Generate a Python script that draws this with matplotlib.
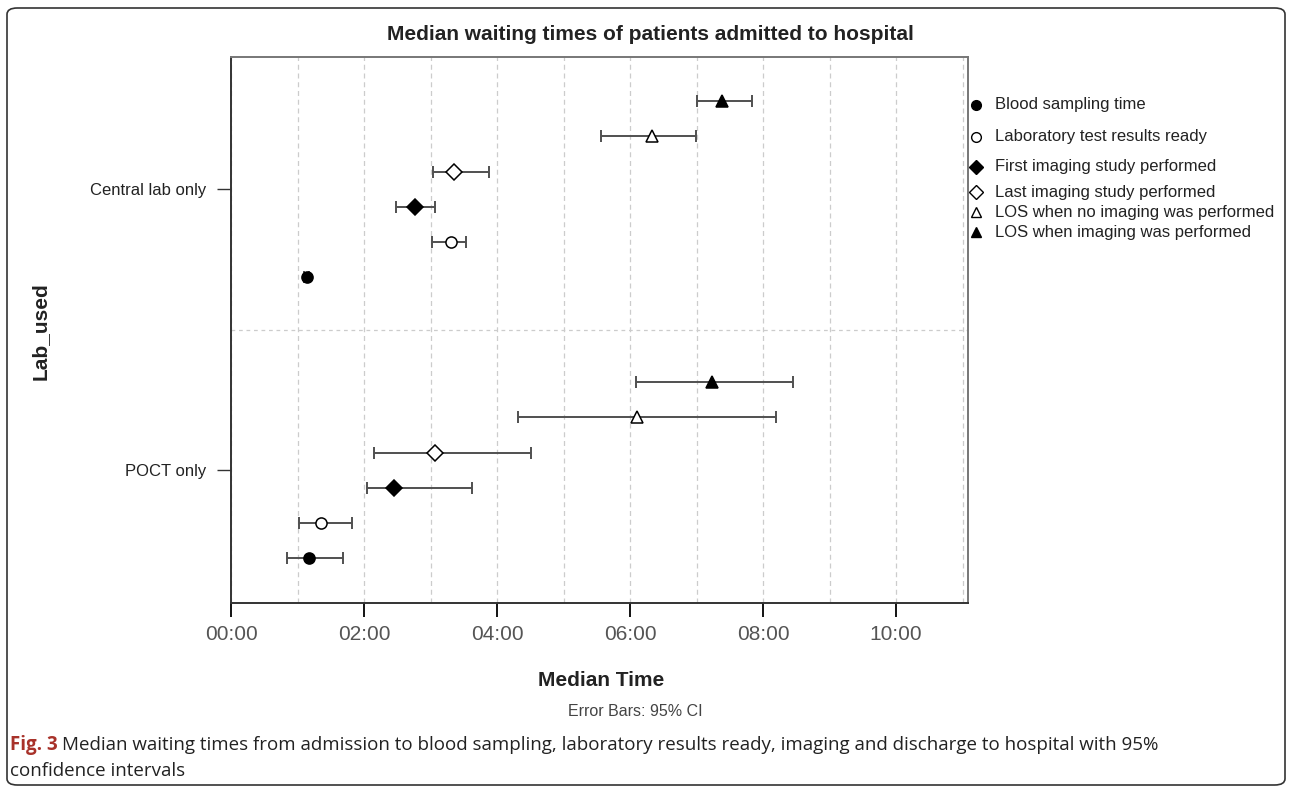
import matplotlib.pyplot as plt
import numpy as np
from matplotlib.lines import Line2D
from matplotlib.patches import FancyBboxPatch
from matplotlib.ticker import FuncFormatter, MultipleLocator

plt.rcParams['font.family'] = ['Liberation Sans', 'DejaVu Sans']

# groups (y axis) and series (bottom to top inside each group)
groups = ["POCT only", "Central lab only"]
series = [
    "Blood sampling time",
    "Laboratory test results ready",
    "First imaging study performed",
    "Last imaging study performed",
    "LOS when no imaging was performed",
    "LOS when imaging was performed",
]

# median times in hours, order: [POCT only, Central lab only]
median = {
    "Blood sampling time": [1.17, 1.14],
    "Laboratory test results ready": [1.35, 3.31],
    "First imaging study performed": [2.45, 2.77],
    "Last imaging study performed": [3.07, 3.35],
    "LOS when no imaging was performed": [6.11, 6.33],
    "LOS when imaging was performed": [7.23, 7.38],
}
ci_low = {
    "Blood sampling time": [0.84, 1.10],
    "Laboratory test results ready": [1.02, 3.02],
    "First imaging study performed": [2.04, 2.48],
    "Last imaging study performed": [2.15, 3.04],
    "LOS when no imaging was performed": [4.32, 5.56],
    "LOS when imaging was performed": [6.09, 7.01],
}
ci_high = {
    "Blood sampling time": [1.68, 1.18],
    "Laboratory test results ready": [1.82, 3.53],
    "First imaging study performed": [3.62, 3.07],
    "Last imaging study performed": [4.51, 3.88],
    "LOS when no imaging was performed": [8.20, 6.99],
    "LOS when imaging was performed": [8.45, 7.83],
}

styles = {
    "Blood sampling time": dict(marker="o", mfc="black", ms=8),
    "Laboratory test results ready": dict(marker="o", mfc="white", ms=8),
    "First imaging study performed": dict(marker="D", mfc="black", ms=8),
    "Last imaging study performed": dict(marker="D", mfc="white", ms=8),
    "LOS when no imaging was performed": dict(marker="^", mfc="white", ms=8),
    "LOS when imaging was performed": dict(marker="^", mfc="black", ms=8),
}

fig = plt.figure(figsize=(12.92, 7.87), dpi=100)
ax = fig.add_axes([231 / 1292, 1 - 603 / 787, 737 / 1292, 546 / 787])

step = 0.125
ypos = np.arange(len(groups))
for i, name in enumerate(series):
    off = (i - 2.5) * step
    m = np.array(median[name])
    lo = m - np.array(ci_low[name])
    hi = np.array(ci_high[name]) - m
    st = styles[name]
    ax.errorbar(m, ypos + off, xerr=[lo, hi], fmt="none", ecolor="#505050",
                elinewidth=1.4, capsize=4, capthick=1.4, zorder=2)
    ax.plot(m, ypos + off, linestyle="none", marker=st["marker"], ms=st["ms"],
            mfc=st["mfc"], mec="black", mew=1.1, zorder=3)

ax.set_xlim(0, 11.08)
ax.set_ylim(-0.473, 1.47)
ax.xaxis.set_major_locator(MultipleLocator(2))
ax.xaxis.set_minor_locator(MultipleLocator(1))
ax.xaxis.set_major_formatter(FuncFormatter(lambda v, p: f"{int(v):02d}:{int(round((v % 1) * 60)):02d}"))
ax.grid(axis="x", which="both", linestyle=(0, (4, 3)), color="#cccccc", linewidth=0.9)
ax.axhline(0.5, linestyle=(0, (3, 3)), color="#cccccc", linewidth=0.9)
ax.set_axisbelow(True)

ax.set_yticks(ypos)
ax.set_yticklabels(groups, fontsize=12, color="#222222")
ax.tick_params(axis="y", length=10, width=1.0, pad=8, color="#333333")
ax.tick_params(axis="x", which="major", length=10, width=1.3, labelsize=15,
               labelcolor="#555555", pad=6)
ax.tick_params(axis="x", which="minor", length=0)

for s in ["left", "bottom"]:
    ax.spines[s].set_color("#333333")
    ax.spines[s].set_linewidth(1.4)
for s in ["top", "right"]:
    ax.spines[s].set_color("#777777")
    ax.spines[s].set_linewidth(1.4)

fig.text(650 / 1292, 1 - 35 / 787, "Median waiting times of patients admitted to hospital",
         ha="center", va="center", fontsize=15, fontweight="bold", color="#222222")
fig.text(601 / 1292, 1 - 681 / 787, "Median Time", ha="center", va="center",
         fontsize=15, fontweight="bold", color="#222222")
fig.text(40 / 1292, 1 - 331 / 787, "Lab_used", ha="center", va="center", rotation=90,
         fontsize=15, fontweight="bold", color="#222222")
fig.text(635 / 1292, 1 - 712 / 787, "Error Bars: 95% CI", ha="center", va="center",
         fontsize=11.5, color="#444444")

# legend entries placed on the right of the plot
leg_y = [105, 137, 167, 192, 212, 232]
for name, y in zip(series, leg_y):
    st = styles[name]
    fig.add_artist(Line2D([976 / 1292], [1 - y / 787], marker=st["marker"], linestyle="none",
                          ms=st["ms"] - 1, mfc=st["mfc"], mec="black", mew=1.0,
                          transform=fig.transFigure))
    fig.text(995 / 1292, 1 - y / 787, name, ha="left", va="center", fontsize=12,
             color="#222222")

# caption and outer frame
fig.text(10 / 1292, 1 - 745 / 787, "Fig. 3", ha="left", va="center", fontsize=13.5,
         fontweight="bold", color="#a8322a", family="Open Sans")
fig.text(62 / 1292, 1 - 745 / 787,
         "Median waiting times from admission to blood sampling, laboratory results ready, "
         "imaging and discharge to hospital with 95%",
         ha="left", va="center", fontsize=13.5, color="#222222", family="Open Sans")
fig.text(10 / 1292, 1 - 771 / 787, "confidence intervals", ha="left", va="center",
         fontsize=13.5, color="#222222", family="Open Sans")

frame = FancyBboxPatch((7 / 1292, 2 / 787), 1278 / 1292, 777 / 787,
                       boxstyle="round,pad=0,rounding_size=0.008",
                       transform=fig.transFigure, fill=False, edgecolor="#333333",
                       linewidth=1.2)
fig.add_artist(frame)

fig.savefig("out.png", dpi=100)
